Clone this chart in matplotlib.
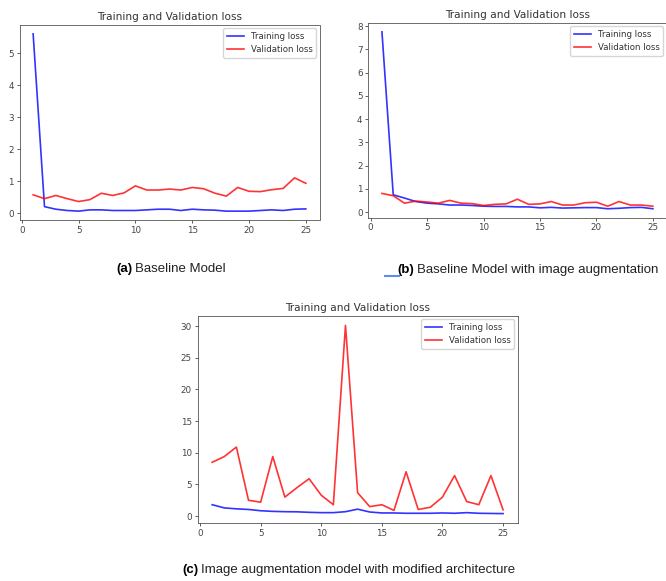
import numpy as np
import matplotlib
matplotlib.use('Agg')
import matplotlib.pyplot as plt
from matplotlib.lines import Line2D

# epochs
epochs = np.arange(1, 26)

# (a) baseline model
train_a = [5.6, 0.2, 0.12, 0.08, 0.06, 0.1, 0.1, 0.08, 0.08, 0.08, 0.1, 0.12, 0.12,
           0.08, 0.12, 0.1, 0.09, 0.06, 0.06, 0.06, 0.08, 0.1, 0.08, 0.12, 0.13]
val_a = [0.57, 0.45, 0.55, 0.45, 0.36, 0.42, 0.62, 0.55, 0.63, 0.85, 0.72, 0.72, 0.75,
         0.72, 0.8, 0.76, 0.62, 0.53, 0.8, 0.68, 0.67, 0.73, 0.77, 1.1, 0.93]

# (b) baseline model with image augmentation
train_b = [7.75, 0.74, 0.6, 0.45, 0.38, 0.35, 0.3, 0.3, 0.28, 0.25, 0.24, 0.24, 0.22,
           0.22, 0.18, 0.2, 0.17, 0.18, 0.19, 0.19, 0.14, 0.16, 0.19, 0.2, 0.14]
val_b = [0.8, 0.7, 0.38, 0.47, 0.43, 0.38, 0.5, 0.38, 0.36, 0.28, 0.33, 0.35, 0.55,
         0.33, 0.35, 0.45, 0.3, 0.3, 0.4, 0.42, 0.25, 0.45, 0.3, 0.3, 0.25]

# (c) image augmentation with modified architecture
train_c = [1.8, 1.3, 1.15, 1.05, 0.85, 0.75, 0.7, 0.68, 0.6, 0.55, 0.55, 0.7, 1.1,
           0.65, 0.5, 0.5, 0.45, 0.45, 0.45, 0.5, 0.45, 0.55, 0.45, 0.42, 0.4]
val_c = [8.5, 9.4, 10.9, 2.5, 2.2, 9.4, 3.0, 4.5, 5.9, 3.3, 1.8, 30.1, 3.7,
         1.5, 1.8, 0.9, 7.0, 1.05, 1.4, 3.0, 6.4, 2.3, 1.8, 6.4, 1.0]

captions = [('(a)', 'Baseline Model'),
            ('(b)', 'Baseline Model with image augmentation'),
            ('(c)', 'Image augmentation model with modified architecture')]

W, H = 666, 581
fig = plt.figure(figsize=(W / 100, H / 100), dpi=100)


def px_axes(left, top, width, height):
    return fig.add_axes([left / W, 1 - (top + height) / H, width / W, height / H])


def loss_plot(ax, train, val):
    ax.plot(epochs, train, color='b', alpha=0.8, lw=1.2, label='Training loss')
    ax.plot(epochs, val, color='r', alpha=0.8, lw=1.2, label='Validation loss')
    ax.set_title('Training and Validation loss', fontsize=7.6, color='#333333', pad=3.5)
    ax.legend(fontsize=6.2, loc='upper right', handlelength=2.0, borderaxespad=0.4,
              labelcolor='#333333')
    ax.tick_params(labelsize=6.3, length=2.2, width=0.6, pad=2, colors='#444444')
    for s in ax.spines.values():
        s.set_linewidth(0.6)
        s.set_color('#555555')


ax_a = px_axes(19.5, 25, 300, 195)
loss_plot(ax_a, train_a, val_a)
ax_b = px_axes(368.4, 23, 298, 194.6)
loss_plot(ax_b, train_b, val_b)
ax_c = px_axes(197.6, 316, 320, 207)
loss_plot(ax_c, train_c, val_c)

# captions: bold label then normal text
renderer = fig.canvas.get_renderer()
cap_pos = [(116, 269), (397, 270), (182, 570)]
for (lab, txt), (x, y) in zip(captions, cap_pos):
    t = fig.text(x / W, 1 - y / H, lab, fontsize=9.5, fontweight='bold',
                 family='Liberation Sans', va='center', ha='left')
    bb = t.get_window_extent(renderer)
    fig.text((bb.x1 + 3) / W, 1 - y / H, txt, fontsize=9.5,
             family='Liberation Sans', va='center', ha='left', color='#222222')

# small blue mark before caption (b)
fig.add_artist(Line2D([385 / W, 399 / W], [1 - 276 / H, 1 - 276 / H],
                      color='#5b8def', lw=1.5))

fig.savefig('out.png', dpi=100)
